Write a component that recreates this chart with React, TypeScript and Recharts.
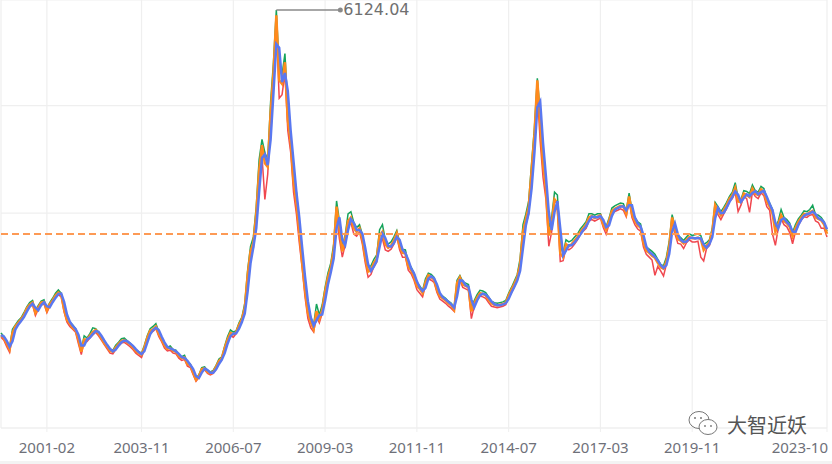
import {
  LineChart,
  Line,
  XAxis,
  YAxis,
  CartesianGrid,
  ReferenceLine,
  ReferenceDot,
} from 'recharts';

// first month of the series
const START_YEAR = 1999;
const START_MONTH = 10;

// orange line, one sample per month (1999-10 .. 2023-10)
const closeLine = [
  1620, 1580, 1500,
  1420, 1650, 1740, 1790, 1840, 1900, 1990, 2040, 2070, 1930, 2000, 2070,
  2080, 1960, 2050, 2100, 2170, 2210, 2180, 1980, 1830, 1780, 1720, 1690,
  1560, 1390, 1560, 1560, 1610, 1660, 1690, 1640, 1580, 1510, 1460, 1400,
  1390, 1450, 1500, 1540, 1550, 1520, 1490, 1450, 1400, 1370, 1345, 1450,
  1580, 1680, 1700, 1740, 1640, 1560, 1480, 1430, 1440, 1400, 1390, 1330,
  1300, 1310, 1220, 1200, 1100, 1000, 1050, 1150, 1160, 1110, 1090, 1110,
  1180, 1260, 1300, 1440, 1560, 1650, 1630, 1660, 1760, 1840, 2000, 2450,
  2780, 2900, 3300, 3900, 4250, 4000, 3950, 4700, 5250, 6050, 5150, 5100,
  5400, 4600, 4300, 3750, 3450, 3050, 2620, 2250, 1930, 1800, 1700, 1950,
  1840, 1970, 2220, 2420, 2560, 2800, 3400, 3100, 2780, 2950, 3200, 3250,
  3100, 3050, 3100, 2950, 2700, 2500, 2520, 2620, 2680, 3000, 3050, 2880,
  2830, 2860, 2930, 3030, 2850, 2760, 2750, 2570, 2520, 2430, 2300, 2260,
  2200, 2350, 2450, 2420, 2390, 2250, 2160, 2130, 2100, 2060, 2030, 1970,
  2340, 2420, 2320, 2300, 2280, 1950, 2060, 2140, 2200, 2190, 2170, 2110,
  2060, 2040, 2030, 2040, 2050, 2070, 2170, 2250, 2330, 2420, 2600, 3050,
  3230, 3400, 3900, 4400, 5150, 4560, 3990, 3650, 3000, 3150, 3500, 3450,
  2750, 2700, 2880, 2850, 2880, 2930, 2980, 3050, 3100, 3150, 3250, 3270,
  3240, 3260, 3280, 3150, 3080, 3200, 3340, 3370, 3390, 3410, 3400, 3300,
  3540, 3300, 3200, 3140, 3110, 2900, 2790, 2760, 2720, 2690, 2620, 2560,
  2540, 2640, 2850, 3250, 3080, 2950, 2930, 2890, 2940, 2980, 2960, 2960,
  2970, 2950, 2800, 2860, 2900, 3050, 3420, 3340, 3280, 3350, 3420, 3510,
  3560, 3660, 3470, 3460, 3580, 3560, 3530, 3650, 3580, 3560, 3640, 3600,
  3470, 3400, 3300, 3050, 3150, 3280, 3200, 3170, 3120, 2990, 3100, 3190,
  3250, 3300, 3290, 3320, 3340, 3250, 3230, 3210, 3150, 3021,
];

// blue line (lags the orange one a little)
const avgLine = [
  1620, 1600, 1540,
  1460, 1535, 1695, 1765, 1815, 1870, 1945, 2015, 2055, 2000, 1965, 2035,
  2075, 2020, 2005, 2075, 2135, 2190, 2195, 2080, 1905, 1805, 1750, 1705,
  1625, 1475, 1475, 1560, 1585, 1635, 1675, 1665, 1610, 1545, 1485, 1430,
  1395, 1420, 1475, 1520, 1545, 1535, 1505, 1470, 1425, 1385, 1358, 1398,
  1515, 1630, 1690, 1720, 1690, 1600, 1520, 1455, 1435, 1420, 1395, 1360,
  1315, 1305, 1265, 1210, 1150, 1050, 1025, 1100, 1155, 1135, 1100, 1100,
  1145, 1220, 1280, 1370, 1500, 1605, 1640, 1645, 1710, 1800, 1920, 2225,
  2615, 2840, 3100, 3600, 4075, 4125, 3975, 4325, 4975, 5650, 5600, 5125,
  5250, 5000, 4450, 4025, 3600, 3250, 2835, 2435, 2090, 1865, 1750, 1825,
  1895, 1905, 2095, 2320, 2490, 2680, 3100, 3250, 2940, 2865, 3075, 3225,
  3175, 3075, 3075, 3025, 2825, 2600, 2510, 2570, 2650, 2840, 3025, 2965,
  2855, 2845, 2895, 2980, 2940, 2805, 2755, 2660, 2545, 2475, 2365, 2280,
  2230, 2275, 2400, 2435, 2405, 2320, 2205, 2145, 2115, 2080, 2045, 2000,
  2155, 2380, 2370, 2310, 2290, 2115, 2005, 2100, 2170, 2195, 2180, 2140,
  2085, 2050, 2035, 2035, 2045, 2060, 2120, 2210, 2290, 2375, 2510, 2825,
  3140, 3315, 3650, 4150, 4775, 4855, 4275, 3820, 3325, 3075, 3325, 3475,
  3100, 2725, 2790, 2865, 2865, 2905, 2955, 3015, 3075, 3125, 3200, 3260,
  3255, 3250, 3270, 3215, 3115, 3140, 3270, 3355, 3380, 3400, 3405, 3350,
  3420, 3420, 3250, 3170, 3125, 3005, 2845, 2775, 2740, 2705, 2655, 2590,
  2550, 2590, 2745, 3050, 3165, 3015, 2940, 2910, 2915, 2960, 2970, 2960,
  2965, 2960, 2875, 2830, 2880, 2975, 3235, 3380, 3310, 3315, 3385, 3465,
  3535, 3610, 3565, 3465, 3520, 3570, 3545, 3590, 3615, 3570, 3600, 3620,
  3535, 3435, 3350, 3175, 3100, 3215, 3240, 3185, 3145, 3055, 3045, 3145,
  3220, 3275, 3295, 3305, 3330, 3295, 3240, 3220, 3180, 3085,
];

// green line (highs)
const highLine = [
  1650, 1600, 1530,
  1450, 1700, 1760, 1820, 1860, 1930, 2010, 2070, 2100, 1960, 2030, 2090,
  2110, 1990, 2070, 2130, 2200, 2245, 2200, 2010, 1870, 1800, 1760, 1710,
  1600, 1420, 1610, 1580, 1640, 1720, 1710, 1660, 1600, 1540, 1480, 1420,
  1410, 1480, 1520, 1570, 1580, 1540, 1510, 1470, 1420, 1390, 1370, 1480,
  1610, 1710, 1740, 1780, 1670, 1580, 1500, 1450, 1470, 1420, 1410, 1350,
  1320, 1340, 1240, 1220, 1120, 1020, 1070, 1170, 1180, 1130, 1110, 1130,
  1200, 1290, 1320, 1470, 1600, 1690, 1660, 1680, 1790, 1870, 2060, 2520,
  2850, 2980, 3400, 4050, 4330, 4150, 4050, 4850, 5400, 6124.04, 5300, 5230,
  5520, 4750, 4420, 3850, 3600, 3150, 2720, 2350, 2050, 1870, 1760, 2050,
  1900, 2040, 2280, 2480, 2620, 2880, 3478, 3200, 2850, 3000, 3300, 3330,
  3180, 3110, 3150, 3010, 2760, 2560, 2580, 2670, 2730, 3080, 3150, 2940,
  2880, 2910, 2980, 3067, 2900, 2810, 2800, 2620, 2560, 2480, 2350, 2300,
  2240, 2400, 2478, 2460, 2420, 2290, 2190, 2160, 2130, 2090, 2060, 2000,
  2380, 2444, 2360, 2340, 2320, 2000, 2100, 2180, 2240, 2230, 2210, 2150,
  2090, 2070, 2060, 2070, 2080, 2100, 2200, 2280, 2370, 2460, 2680, 3150,
  3300, 3480, 4000, 4500, 5178, 4700, 4150, 3750, 3100, 3250, 3600, 3560,
  2850, 2760, 2940, 2910, 2930, 2980, 3020, 3090, 3140, 3190, 3300, 3300,
  3280, 3300, 3300, 3190, 3120, 3240, 3380, 3410, 3430, 3450, 3440, 3340,
  3587, 3350, 3250, 3190, 3160, 2960, 2840, 2810, 2780, 2740, 2670, 2600,
  2580, 2700, 2920, 3288, 3130, 3000, 2970, 2930, 2980, 3020, 3000, 3010,
  3020, 3000, 2880, 2900, 2940, 3100, 3458, 3400, 3330, 3390, 3460, 3540,
  3600, 3731, 3520, 3500, 3620, 3610, 3580, 3700, 3620, 3600, 3680, 3650,
  3520, 3450, 3360, 3120, 3200, 3360, 3250, 3220, 3170, 3040, 3150, 3230,
  3280, 3340, 3330, 3360, 3418, 3290, 3280, 3250, 3190, 3060,
];

// red line (lows)
const lowLine = [
  1590, 1550, 1460,
  1380, 1620, 1710, 1770, 1810, 1880, 1960, 2010, 2040, 1890, 1980, 2040,
  2050, 1930, 2020, 2080, 2140, 2180, 2150, 1940, 1800, 1740, 1700, 1660,
  1500, 1350, 1530, 1530, 1580, 1620, 1660, 1610, 1550, 1490, 1430, 1370,
  1360, 1420, 1470, 1510, 1520, 1490, 1460, 1420, 1370, 1340, 1310, 1420,
  1550, 1650, 1670, 1710, 1600, 1530, 1440, 1400, 1410, 1370, 1360, 1300,
  1270, 1280, 1190, 1170, 1070, 980, 1030, 1120, 1140, 1090, 1070, 1090,
  1150, 1230, 1280, 1410, 1530, 1610, 1590, 1640, 1730, 1810, 1960, 2380,
  2700, 2830, 3200, 3750, 4100, 3500, 3850, 4600, 5100, 5900, 4900, 4950,
  5250, 4450, 4150, 3600, 3300, 2900, 2550, 2150, 1850, 1720, 1664, 1880,
  1790, 1920, 2160, 2370, 2500, 2740, 3300, 2950, 2700, 2870, 3130, 3180,
  3020, 2990, 3050, 2880, 2620, 2420, 2460, 2570, 2630, 2920, 2950, 2800,
  2780, 2810, 2880, 2980, 2800, 2700, 2700, 2520, 2470, 2380, 2250, 2200,
  2150, 2310, 2400, 2380, 2350, 2210, 2120, 2090, 2060, 2020, 1990, 1949,
  2290, 2380, 2280, 2260, 2240, 1849, 2020, 2100, 2160, 2150, 2130, 2070,
  2020, 2010, 2000, 2010, 2020, 2040, 2140, 2210, 2290, 2380, 2550, 2950,
  3150, 3300, 3820, 4300, 5000, 4300, 3800, 3500, 2850, 3050, 3420, 3350,
  2638, 2650, 2830, 2800, 2830, 2880, 2940, 3010, 3060, 3100, 3200, 3220,
  3200, 3220, 3240, 3110, 3016, 3160, 3300, 3330, 3350, 3370, 3350, 3260,
  3480, 3250, 3150, 3090, 3060, 2840, 2740, 2700, 2660, 2449, 2570, 2510,
  2440, 2600, 2800, 3200, 3020, 2890, 2880, 2820, 2900, 2940, 2910, 2910,
  2920, 2700, 2646, 2820, 2860, 3000, 3350, 3290, 3220, 3300, 3370, 3470,
  3510, 3600, 3330, 3420, 3540, 3510, 3320, 3600, 3540, 3510, 3590, 3550,
  3400, 3350, 3020, 2863, 3100, 3230, 3150, 3120, 3040, 2885, 3050, 3140,
  3210, 3260, 3250, 3280, 3290, 3200, 3180, 3100, 3100, 2980,
];

const tickLabels = [
  '2001-02', '2003-11', '2006-07', '2009-03', '2011-11',
  '2014-07', '2017-03', '2019-11', '2023-10',
];
const yTicks = [333, 1822, 3311, 4800];
const yDomain = [333, 6262];

const months = closeLine.map((_, i) => {
  const t = START_MONTH - 1 + i;
  const y = START_YEAR + Math.floor(t / 12);
  const m = (t % 12) + 1;
  return `${y}-${String(m).padStart(2, '0')}`;
});

const data = months.map((month, i) => ({
  i,
  month,
  high: highLine[i],
  low: lowLine[i],
  close: closeLine[i],
  avg: avgLine[i],
}));

const tickIndex = tickLabels.map((l) => months.indexOf(l));
const lastIndex = months.length - 1;
const lastClose = closeLine[lastIndex];
const peakValue = Math.max(...highLine);
const peakIndex = highLine.indexOf(peakValue);

const MonthTick = (props: any) => {
  const { x, y, payload } = props;
  const isLast = payload.value === lastIndex;
  return (
    <text
      x={isLast ? x + 1 : x}
      y={y}
      dy={12.5}
      textAnchor={isLast ? 'end' : 'middle'}
      fontFamily="'Noto Sans', sans-serif"
      fontSize={15}
      fill="#6e7079"
    >
      {months[payload.value]}
    </text>
  );
};

const PeakMark = (props: any) => {
  const { cx, cy } = props;
  return (
    <g>
      <line x1={cx} y1={cy} x2={cx + 64} y2={cy} stroke="#8a8a8a" strokeWidth={1.5} />
      <circle cx={cx + 64} cy={cy} r={2.5} fill="#8a8a8a" />
      <text
        x={cx + 67}
        y={cy}
        dy={5.5}
        fontFamily="'DejaVu Sans', sans-serif"
        fontSize={16}
        fill="#707070"
      >
        {peakValue.toFixed(2)}
      </text>
    </g>
  );
};

export default function App() {
  return (
    <div style={{ position: 'relative', width: 832, height: 464, background: '#fff' }}>
      <style>{'body{margin:0}'}</style>
      <LineChart
        width={832}
        height={464}
        data={data}
        margin={{ top: 0, right: 5, bottom: 0, left: 1 }}
      >
        <CartesianGrid stroke="#efefef" strokeWidth={1.2} />
        <XAxis
          dataKey="i"
          type="number"
          domain={[0, lastIndex]}
          ticks={tickIndex}
          interval={0}
          height={36}
          tick={<MonthTick />}
          tickSize={4}
          tickMargin={8}
          axisLine={{ stroke: '#efefef' }}
          tickLine={{ stroke: '#efefef' }}
        />
        <YAxis hide type="number" domain={yDomain} ticks={yTicks} allowDataOverflow />
        <Line
          type="linear"
          dataKey="high"
          stroke="#15a35a"
          strokeWidth={1.5}
          dot={false}
          isAnimationActive={false}
        />
        <Line
          type="linear"
          dataKey="low"
          stroke="#f0474f"
          strokeWidth={1.5}
          dot={false}
          isAnimationActive={false}
        />
        <Line
          type="linear"
          dataKey="close"
          stroke="#ff8a1c"
          strokeWidth={2.5}
          dot={false}
          isAnimationActive={false}
        />
        <Line
          type="linear"
          dataKey="avg"
          stroke="#5a78f0"
          strokeWidth={2.5}
          dot={false}
          isAnimationActive={false}
        />
        <ReferenceLine
          y={lastClose}
          stroke="#fd9a55"
          strokeWidth={2}
          strokeDasharray="7 4"
        />
        <ReferenceDot x={peakIndex} y={peakValue} shape={<PeakMark />} />
      </LineChart>
      <div
        style={{
          position: 'absolute',
          left: 687,
          top: 410,
          height: 28,
          display: 'flex',
          alignItems: 'center',
          gap: 8,
          color: '#555',
          fontFamily: "'Noto Sans CJK SC', sans-serif",
          fontSize: 20,
        }}
      >
        <svg width={32} height={28} viewBox="0 0 32 28">
          <ellipse cx={12} cy={10} rx={10} ry={8.5} fill="#fff" stroke="#777" strokeWidth={1} />
          <ellipse cx={21} cy={17} rx={9} ry={7.5} fill="#fff" stroke="#777" strokeWidth={1} />
          <circle cx={8} cy={8} r={1} fill="#777" />
          <circle cx={14} cy={8} r={1} fill="#777" />
          <circle cx={18} cy={16} r={0.9} fill="#777" />
          <circle cx={24} cy={16} r={0.9} fill="#777" />
        </svg>
        <span style={{ lineHeight: '17px', height: 17, overflow: 'visible' }}>大智近妖</span>
      </div>
      <div
        style={{
          position: 'absolute',
          left: 0,
          top: 461,
          width: 832,
          height: 3,
          background: '#f3f3f3',
        }}
      />
    </div>
  );
}
